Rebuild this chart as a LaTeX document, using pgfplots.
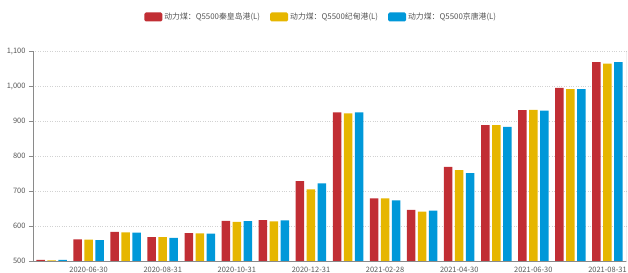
\documentclass[border=0pt]{standalone}
\usepackage{fontspec}
\setmainfont{Noto Sans CJK SC}
\usepackage{pgfplots}
\usepackage{pgfplotstable}
\pgfplotsset{compat=1.18}
\definecolor{cR}{HTML}{C12E34}
\definecolor{cY}{HTML}{E6B600}
\definecolor{cB}{HTML}{0098D9}
\definecolor{axgray}{HTML}{8A8A8A}
\definecolor{txtgray}{HTML}{555555}
\pgfplotstableread{
x r y b
0 503 501.5 503
1 562 561 560
2 583 582 581
3 568 568 566
4 580 579 578
5 615 612 614
6 617 613 616
7 728 705 722
8 925 922 925
9 679 679 673
10 646 641 644
11 769 760 751
12 888 888 883
13 931 932 930
14 995 991 991
15 1068 1064 1068
}\datatable
\begin{document}
\begin{tikzpicture}
\useasboundingbox (0,0) rectangle (628bp,273bp);
\begin{axis}[
  at={(33bp,12bp)}, anchor=south west,
  scale only axis, width=593bp, height=210bp,
  ybar=2.5bp, bar width=8.5bp,
  xmin=-0.5, xmax=15.5, ymin=500, ymax=1100,
  ytick={500,600,...,1100},
  xtick={1,3,...,15},
  xticklabels={2020-06-30,2020-08-31,2020-10-31,2020-12-31,2021-02-28,2021-04-30,2021-06-30,2021-08-31},
  extra x ticks={0.5,2.5,...,14.5},
  extra x tick labels={},
  extra x tick style={major tick length=4bp, tick style={axgray, line width=0.6bp}, tick align=outside},
  major tick length=4bp,
  x tick style={draw=none},
  y tick style={axgray, line width=0.6bp},
  tick align=outside,
  axis x line*=bottom, axis y line*=left,
  axis line style={axgray, line width=0.8bp, -},
  ymajorgrids, grid style={dotted, gray!35, line width=0.5bp},
  tick label style={font=\fontsize{7.5}{8}\selectfont, text=txtgray},
  xticklabel style={yshift=1bp},
  /pgf/number format/.cd, 1000 sep={,}, assume math mode=true,
  /pgfplots/.cd,
  legend columns=3,
  legend style={at={(axis description cs:0.486,1.162)}, anchor=center, draw=none,
    font=\fontsize{7.9}{8}\selectfont, text=txtgray,
    /tikz/every even column/.append style={column sep=8bp}},
  legend image code/.code={\fill[#1, rounded corners=1.5bp] (0bp,-4.5bp) rectangle (18bp,4.5bp);},
]
\addplot[fill=cR, draw=none] table[x=x, y=r] {\datatable};
\addplot[fill=cY, draw=none] table[x=x, y=y] {\datatable};
\addplot[fill=cB, draw=none] table[x=x, y=b] {\datatable};
\legend{动力煤：Q5500秦皇岛港(L), 动力煤：Q5500纪甸港(L), 动力煤：Q5500京唐港(L)}
\draw[axgray, line width=0.8bp] (rel axis cs:1,0) -- (rel axis cs:1,1);
\end{axis}
\end{tikzpicture}
\end{document}
